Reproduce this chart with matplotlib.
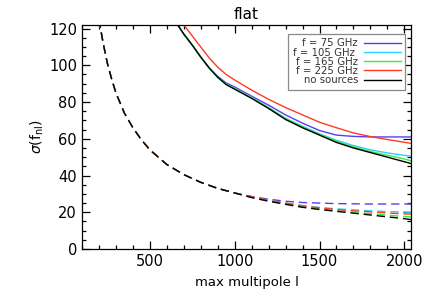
import matplotlib
matplotlib.use('Agg')
import matplotlib.pyplot as plt
from matplotlib.ticker import MultipleLocator

# ---- data ----
# dashed curves (lower family)
ell_d = [200, 225, 250, 275, 300, 350, 400, 450, 500, 600, 700, 800, 900, 1000,
         1100, 1200, 1300, 1400, 1500, 1600, 1700, 1800, 1900, 2000, 2040]
base_d = [125, 112, 101, 92.5, 85, 74, 66, 59.5, 54, 46, 40.5, 36.3, 33, 30.5]
blue_d = base_d + [28.6, 27.1, 26.0, 25.3, 25.0, 24.7, 24.6, 24.5, 24.5, 24.5, 24.5]
cyan_d = base_d + [28.3, 26.5, 25.0, 23.6, 22.6, 21.9, 21.3, 20.8, 20.4, 20.1, 20.0]
green_d = base_d + [28.1, 26.2, 24.6, 22.9, 21.9, 20.9, 20.0, 19.2, 18.4, 17.7, 17.5]
red_d = base_d + [28.4, 26.5, 25.0, 23.5, 22.4, 21.5, 20.8, 20.2, 19.6, 19.1, 19.0]
black_d = base_d + [28.0, 26.0, 24.3, 22.7, 21.5, 20.5, 19.5, 18.5, 17.5, 16.5, 16.0]

# solid curves (upper family)
ell_s = [650, 700, 750, 800, 850, 900, 950, 1000, 1100, 1200, 1300, 1400,
         1500, 1600, 1700, 1800, 1900, 2000, 2040]
black_s = [124, 117, 111, 104.5, 98.5, 93.5, 89.5, 87, 82, 76.5, 70.5, 66,
           62, 58, 55, 52.5, 50, 47.5, 46.5]
green_s = [124, 117, 111, 104.5, 98.5, 93.5, 89.7, 87.3, 82.3, 76.8, 70.9, 66.4,
           62.3, 58.6, 55.6, 53.1, 51.0, 49.0, 48.0]
cyan_s = [124, 117, 111, 104.5, 98.5, 93.5, 89.8, 87.4, 82.5, 77.0, 71.2, 66.8,
          62.7, 59.2, 56.3, 54.0, 52.3, 51.0, 50.5]
blue_s = [124, 117, 111, 104.5, 98.7, 94, 90.4, 88.2, 83.2, 78.3, 73.0, 68.5,
          64.5, 62.0, 61.3, 61.0, 61.0, 61.0, 61.0]
red_s = [130, 122, 116, 110, 104, 99, 95, 92, 86.5, 81.5, 77, 73,
         69, 66, 63.2, 61.2, 59.6, 58.1, 57.5]

labels = ['f = 75 GHz', 'f = 105 GHz ', 'f = 165 GHz', 'f = 225 GHz', 'no sources']
colors = ['#5a3cf0', '#2cd0ff', '#3ee83e', '#ff3a22', '#000000']

fig = plt.figure(figsize=(4.36, 3.0), dpi=100)
ax = fig.add_axes([0.188, 0.17, 0.755, 0.747])

solids = [blue_s, cyan_s, green_s, red_s, black_s]
dashes = [blue_d, cyan_d, green_d, red_d, black_d]
for ys, yd, c, lab in zip(solids, dashes, colors, labels):
    ax.plot(ell_s, ys, color=c, lw=1.0, label=lab)
    ax.plot(ell_d, yd, color=c, lw=1.0, dashes=(6, 3.5))

ax.set_xlim(100, 2040)
ax.set_ylim(0, 122)
ax.set_xticks([500, 1000, 1500, 2000])
ax.set_yticks([0, 20, 40, 60, 80, 100, 120])
ax.xaxis.set_minor_locator(MultipleLocator(100))
ax.yaxis.set_minor_locator(MultipleLocator(5))
ax.tick_params(which='both', direction='in', top=True, right=True,
               labelsize=10.5, width=0.9)
ax.tick_params(which='major', length=6)
ax.tick_params(which='minor', length=3)
for sp in ax.spines.values():
    sp.set_linewidth(0.9)

ax.set_title('flat', fontsize=11, pad=4)
ax.set_xlabel('max multipole l', fontsize=9.5, labelpad=5)
ax.set_ylabel(r'$\sigma$(f$_{\mathregular{nl}}$)', fontsize=10, labelpad=2)

leg = ax.legend(loc='upper right', fontsize=7.3, markerfirst=False,
                handlelength=3.6, handletextpad=0.6, labelspacing=-0.08,
                borderpad=0.45, borderaxespad=0, fancybox=False, framealpha=1,
                bbox_to_anchor=(0.982, 0.96))
leg.get_frame().set_edgecolor('#888888')
leg.get_frame().set_linewidth(0.9)
for t in leg.get_texts():
    t.set_ha('right')
    t.set_color('#333333')

fig.savefig('out.png', dpi=100)
